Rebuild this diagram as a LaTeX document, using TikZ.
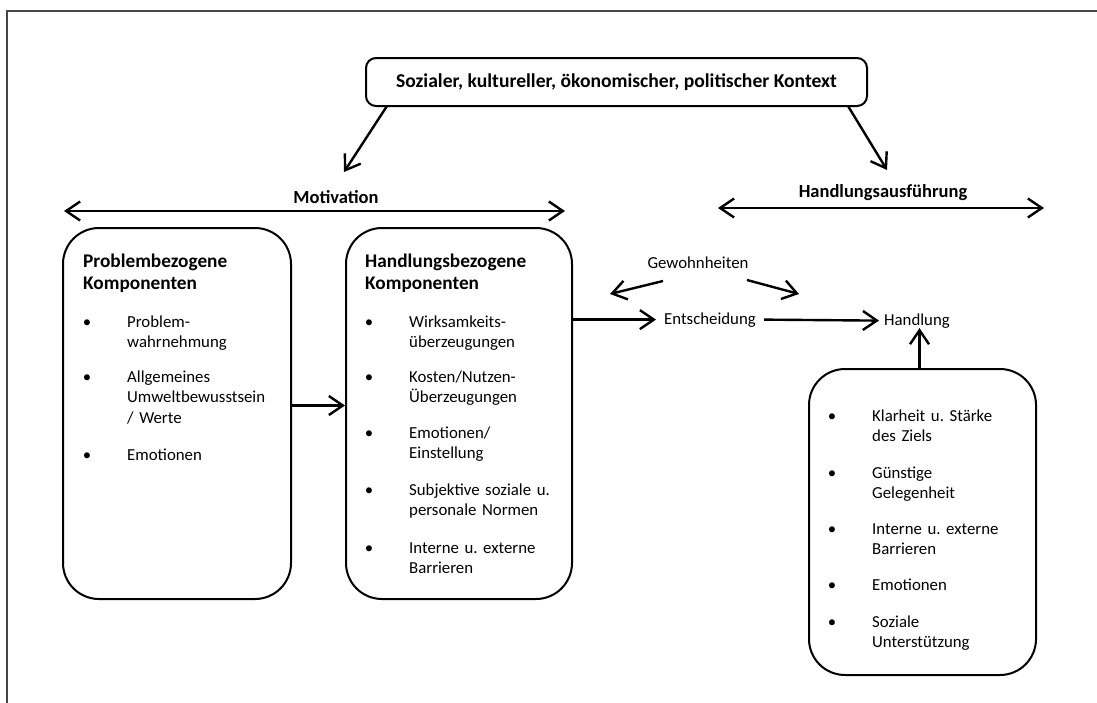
\documentclass[tikz,border=0pt]{standalone}
\usepackage{fontspec}
\setmainfont{Carlito}
\usetikzlibrary{arrows.meta}
\begin{document}
\frenchspacing
\begin{tikzpicture}[x=1pt,y=-1pt,
  barb/.tip={Straight Barb[length=14pt,width=19pt,line width=2.4pt]},
  reg/.style={font=\fontsize{16.8}{20.5}\selectfont\frenchspacing, inner sep=0pt},
  bld/.style={font=\fontsize{18.5}{22}\selectfont\bfseries, inner sep=0pt},
  item/.style={reg, anchor=base west, text width=165pt, align=left},
  bul/.style={reg, anchor=base},
  hdg/.style={font=\fontsize{19.3}{22}\selectfont\bfseries, inner sep=0pt, anchor=base west, text width=190pt, align=left},
  rbox/.style={draw, line width=2pt, rounded corners=36pt},
  arr/.style={line width=2.4pt, -barb},
  darr/.style={line width=2.4pt, barb-barb}]
\useasboundingbox (0,0) rectangle (1097,702);
\draw[line width=2.4pt, color=black!72] (7,712) -- (7,11) -- (1110,11);

% context box
\node[draw, line width=2pt, rounded corners=10pt, minimum width=501pt, minimum height=48pt,
      font=\fontsize{19.6}{22}\selectfont\bfseries] (ctx) at (616.5,82)
      {Sozialer, kultureller, ökonomischer, politischer Kontext};
\coordinate (ctxL) at (387,106);
\coordinate (ctxR) at (848,106);
\coordinate (motTip) at (344,172);
\coordinate (hanTip) at (887,170);
\draw[arr] (ctxL) -- (motTip);
\draw[arr] (ctxR) -- (hanTip);

% phase labels and double arrows
\node[bld, anchor=base] (mot) at (336,203) {Motivation};
\coordinate (motA) at (64,211);
\coordinate (motB) at (565,211);
\draw[darr] (motA) -- (motB);
\node[bld, anchor=base] (han) at (883,197) {Handlungsausführung};
\coordinate (hanA) at (718,208);
\coordinate (hanB) at (1044,208);
\draw[darr] (hanA) -- (hanB);

% boxes
\node[rbox, minimum width=228pt, minimum height=371pt] (pb) at (177,413.5) {};
\node[rbox, minimum width=226pt, minimum height=371pt] (hb) at (459,413.5) {};
\node[rbox, minimum width=227pt, minimum height=306pt] (rb) at (922.5,522) {};

% left box text
\node[hdg] (pbh) at (83,267) {Problembezogene\\Komponenten};
\node[bul] (pb1b) at (87,327) {•};
\node[item] (pb1) at (127,327) {Problem-\\wahrnehmung};
\node[bul] (pb2b) at (87,382) {•};
\node[item] (pb2) at (127,382) {Allgemeines\\Umweltbewusstsein\\/ Werte};
\node[bul] (pb3b) at (87,460) {•};
\node[item] (pb3) at (127,460) {Emotionen};

% middle box text
\node[hdg] (hbh) at (365,267) {Handlungsbezogene\\Komponenten};
\node[bul] (hb1b) at (369,327) {•};
\node[item] (hb1) at (409,327) {Wirksamkeits-\\überzeugungen};
\node[bul] (hb2b) at (369,382) {•};
\node[item] (hb2) at (409,382) {Kosten/Nutzen-\\Überzeugungen};
\node[bul] (hb3b) at (369,438) {•};
\node[item] (hb3) at (409,438) {Emotionen/\\Einstellung};
\node[bul] (hb4b) at (369,495) {•};
\node[item] (hb4) at (409,495) {Subjektive soziale u.\\personale Normen};
\node[bul] (hb5b) at (369,553) {•};
\node[item] (hb5) at (409,553) {Interne u. externe\\Barrieren};

% right box text
\node[bul] (rb1b) at (832,421) {•};
\node[item] (rb1) at (872,421) {Klarheit u. Stärke\\des Ziels};
\node[bul] (rb2b) at (832,478) {•};
\node[item] (rb2) at (872,478) {Günstige\\Gelegenheit};
\node[bul] (rb3b) at (832,534) {•};
\node[item] (rb3) at (872,534) {Interne u. externe\\Barrieren};
\node[bul] (rb4b) at (832,590) {•};
\node[item] (rb4) at (872,590) {Emotionen};
\node[bul] (rb5b) at (832,627) {•};
\node[item] (rb5) at (872,627) {Soziale\\Unterstützung};

% decision part
\node[reg, anchor=base] (gew) at (698,268) {Gewohnheiten};
\node[reg, anchor=base, inner xsep=8pt] (ent) at (710,324) {Entscheidung};
\node[reg, anchor=base, inner xsep=5pt] (hand) at (917,325) {Handlung};
\coordinate (g1s) at (663,281);
\coordinate (g1e) at (610,294);
\coordinate (g2s) at (747,280);
\coordinate (g2e) at (799,294);
\draw[arr] (g1s) -- (g1e);
\draw[arr] (g2s) -- (g2e);

\draw[arr] ([yshift=8pt]pb.east) -- ([yshift=8pt]hb.west);
\draw[arr] (hb.east |- ent.west) -- (ent.west);
\draw[arr] (ent.east) -- (hand.west);
\draw[arr] ([xshift=-3pt]rb.north) -- ([xshift=-3pt]rb.north |- hand.south);
\end{tikzpicture}
\end{document}
